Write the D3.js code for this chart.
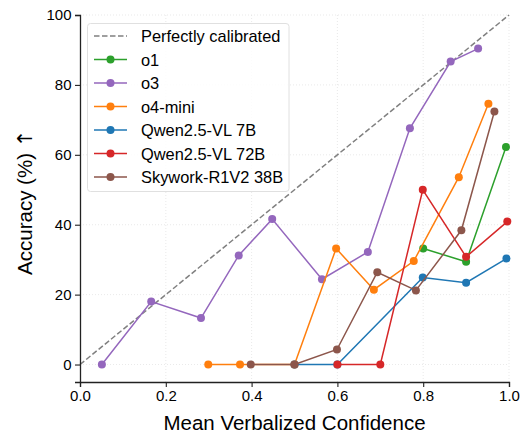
<!DOCTYPE html>
<html>
<head>
<meta charset="utf-8">
<script src="https://cdn.jsdelivr.net/npm/d3@7"></script>
<style>
  body { margin: 0; background: #fff; }
  svg { font-family: 'Liberation Sans', Arial, sans-serif; }
</style>
</head>
<body>
<svg width="523" height="432"></svg>
<script>
const w = 523;
const h = 432;

const xTicks = [0, 0.2, 0.4, 0.6, 0.8, 1.0];
const yTicks = [0, 20, 40, 60, 80, 100];

const seriesNames = ['o1', 'o3', 'o4-mini', 'Qwen2.5-VL 7B', 'Qwen2.5-VL 72B', 'Skywork-R1V2 38B'];
const seriesColors = ['#2ca02c', '#9467bd', '#ff7f0e', '#1f77b4', '#d62728', '#8c564b'];

const o1Conf = [0.8, 0.9, 0.993];
const o1Acc = [33.2, 29.4, 62.2];

const o3Conf = [0.051, 0.166, 0.282, 0.37, 0.448, 0.564, 0.671, 0.769, 0.864, 0.928];
const o3Acc = [0, 18.0, 13.3, 31.2, 41.6, 24.4, 32.2, 67.6, 86.7, 90.4];

const o4miniConf = [0.299, 0.373, 0.5, 0.597, 0.685, 0.778, 0.883, 0.952];
const o4miniAcc = [0, 0, 0, 33.2, 21.4, 29.6, 53.6, 74.6];

const qwen7Conf = [0.5, 0.6, 0.799, 0.9, 0.994];
const qwen7Acc = [0, 0, 24.9, 23.4, 30.3];

const qwen72Conf = [0.6, 0.7, 0.799, 0.9, 0.996];
const qwen72Acc = [0, 0, 50.0, 30.8, 40.9];

const skyConf = [0.398, 0.5, 0.599, 0.693, 0.783, 0.889, 0.966];
const skyAcc = [0, 0, 4.3, 26.4, 21.2, 38.4, 72.4];

const allConf = [o1Conf, o3Conf, o4miniConf, qwen7Conf, qwen72Conf, skyConf];
const allAcc = [o1Acc, o3Acc, o4miniAcc, qwen7Acc, qwen72Acc, skyAcc];

const svg = d3.select('svg');

const xScale = d3.scaleLinear().domain([0, 1]).range([80, 509]);
const yScale = d3.scaleLinear().domain([-5, 100]).range([382, 15]);

// grid
svg.append('g')
  .selectAll('line')
  .data(xTicks.slice(1))
  .enter()
  .append('line')
  .attr('x1', (d) => xScale(d)).attr('x2', (d) => xScale(d))
  .attr('y1', yScale(-5)).attr('y2', yScale(100))
  .attr('stroke', '#e3e3e3').attr('stroke-width', 0.8).attr('stroke-dasharray', '1,2');

svg.append('g')
  .selectAll('line')
  .data(yTicks)
  .enter()
  .append('line')
  .attr('x1', xScale(0)).attr('x2', xScale(1))
  .attr('y1', (d) => yScale(d)).attr('y2', (d) => yScale(d))
  .attr('stroke', '#e3e3e3').attr('stroke-width', 0.8).attr('stroke-dasharray', '1,2');

// perfectly calibrated
svg.append('line')
  .attr('x1', xScale(0)).attr('y1', yScale(0))
  .attr('x2', xScale(1)).attr('y2', yScale(100))
  .attr('stroke', '#808080').attr('stroke-width', 1.5).attr('stroke-dasharray', '5.5,2.5');

// series
const line = d3.line().x((d) => xScale(d[0])).y((d) => yScale(d[1]));

seriesNames.forEach((name, i) => {
  const pts = allConf[i].map((c, j) => [c, allAcc[i][j]]);
  const g = svg.append('g');
  g.append('path')
    .datum(pts)
    .attr('d', line)
    .attr('fill', 'none')
    .attr('stroke', seriesColors[i])
    .attr('stroke-width', 1.5);
  g.selectAll('circle')
    .data(pts)
    .enter()
    .append('circle')
    .attr('cx', (d) => xScale(d[0]))
    .attr('cy', (d) => yScale(d[1]))
    .attr('r', 4)
    .attr('fill', seriesColors[i]);
});

// axes
const xAxis = d3.axisBottom(xScale).tickValues(xTicks).tickFormat(d3.format('.1f')).tickSize(5).tickPadding(3.5);
const yAxis = d3.axisLeft(yScale).tickValues(yTicks).tickSize(5).tickPadding(3.5);

const gx = svg.append('g').attr('transform', `translate(0, ${yScale(-5)})`).call(xAxis);
const gy = svg.append('g').attr('transform', `translate(${xScale(0)}, 0)`).call(yAxis);

[gx, gy].forEach((g) => {
  g.select('.domain').attr('stroke', '#222').attr('stroke-width', 1.3);
  g.selectAll('.tick line').attr('stroke', '#222').attr('stroke-width', 1.1);
  g.selectAll('.tick text').attr('font-size', 15).attr('fill', '#000')
    .attr('font-family', "'Liberation Sans', Arial, sans-serif");
});

svg.append('text')
  .attr('x', (xScale(0) + xScale(1)) / 2)
  .attr('y', 429.5)
  .attr('text-anchor', 'middle')
  .attr('font-size', 20.5)
  .text('Mean Verbalized Confidence');

const yLabel = svg.append('text')
  .attr('transform', `translate(31.5, 202.5) rotate(-90)`)
  .attr('text-anchor', 'middle')
  .attr('font-size', 20.5);
yLabel.append('tspan').text('Accuracy (%) ');
yLabel.append('tspan').attr('font-family', "'DejaVu Sans', sans-serif").text('↑');

// legend
const legend = svg.append('g');
legend.append('rect')
  .attr('x', 87.5).attr('y', 23.5)
  .attr('width', 201.5).attr('height', 168)
  .attr('rx', 3)
  .attr('fill', 'white').attr('fill-opacity', 0.85)
  .attr('stroke', '#e0e0e0');

const legendNames = ['Perfectly calibrated'].concat(seriesNames);
const legendColors = ['#808080'].concat(seriesColors);

legendNames.forEach((name, i) => {
  const y = 36 + i * 23.5;
  const row = legend.append('g');
  row.append('line')
    .attr('x1', 94).attr('x2', 127)
    .attr('y1', y).attr('y2', y)
    .attr('stroke', legendColors[i])
    .attr('stroke-width', 1.5)
    .attr('stroke-dasharray', i === 0 ? '5.5,2.5' : null);
  if (i > 0) {
    row.append('circle').attr('cx', 110.5).attr('cy', y).attr('r', 4).attr('fill', legendColors[i]);
  }
  row.append('text')
    .attr('x', 141).attr('y', y + 6)
    .attr('font-size', 16.4)
    .text(name);
});
</script>
</body>
</html>
